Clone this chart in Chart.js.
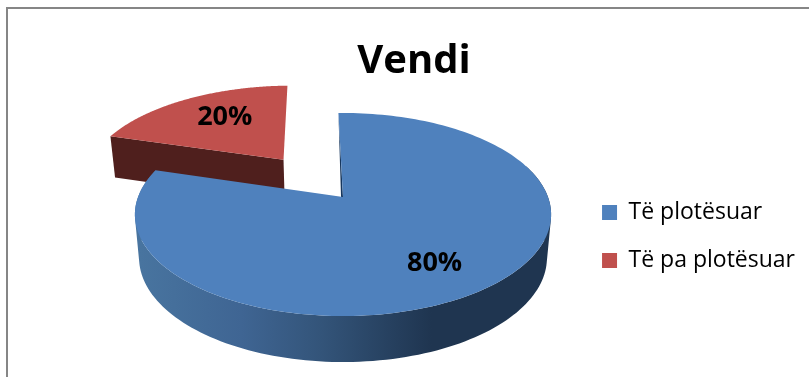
<!DOCTYPE html>
<html><head><meta charset="utf-8">
<style>html,body{margin:0;padding:0;background:#fff}#w{width:809px;height:377px;position:relative}</style>
<script src="https://cdn.jsdelivr.net/npm/chart.js@4"></script>
</head><body><div id="w"><canvas id="c" width="809" height="377"></canvas></div>
<script>
const categories = ["Të plotësuar", "Të pa plotësuar"];
const values = [80, 20];
const labels = ["80%", "20%"];
const explode = [0, 0.51];
const faceColors = ["#4f81bd", "#c0504d"];
const FONT = "'Open Sans', sans-serif";

// Perspective of the 3-D pie: maps a unit disc onto the page
const P = {xc:343, yc:197, B:205, A:98.5, k:0.1725};
function proj(u, v){ const w = 1 - P.k*v; return [P.xc + P.B*u/w, P.yc + P.A*v/w]; }
function low(p){ return [P.xc + (p[0]-P.xc)*0.98, p[1] + 41 + (p[1]-134)*0.0275]; }
function pathOf(ctx, pts){ ctx.beginPath(); pts.forEach((p,i)=> i?ctx.lineTo(p[0],p[1]):ctx.moveTo(p[0],p[1])); ctx.closePath(); }

function geom(arc){
  const {startAngle:s, endAngle:e} = arc;
  const mid = (s+e)/2, ex = arc.options.offset/100;
  const du = Math.cos(mid)*ex, dv = Math.sin(mid)*ex;
  const rim = [], front = [];
  const n = 180;
  for(let i=0;i<=n;i++){
    const a = s+(e-s)*i/n, p = proj(Math.cos(a)+du, Math.sin(a)+dv);
    rim.push(p);
    if(Math.sin(a) > -0.35) front.push(p);
  }
  return {rim, front, apex:proj(du,dv), du, dv, mid};
}
function area(q){ let s=0; q.forEach((p,i)=>{const n=q[(i+1)%q.length]; s+=p[0]*n[1]-n[0]*p[1];}); return s; }
const pie3d = {
  id:'pie3d',
  beforeDraw(chart){
    const c = chart.ctx; c.save(); c.strokeStyle='#868686'; c.lineWidth=2;
    c.beginPath(); c.moveTo(7,377); c.lineTo(7,8); c.lineTo(809,8); c.stroke(); c.restore();
  },
  beforeDatasetDraw(chart){
    const c = chart.ctx, arcs = chart.getDatasetMeta(0).data;
    const g = arcs.map(geom);
    c.save();
    // red slice (behind)
    const r = g[1], rLast = r.rim[0];
    pathOf(c,[r.apex, rLast, low(rLast), low(r.apex)]); c.fillStyle='#4f1f1d'; c.fill();
    pathOf(c,[r.apex, ...r.rim]); c.fillStyle=faceColors[1]; c.fill();
    // blue slice: outer wall, then inner sliver, then the top face
    const b = g[0];
    const grad = c.createLinearGradient(140,0,545,0);
    grad.addColorStop(0,'#48749f'); grad.addColorStop(.25,'#3f6593'); grad.addColorStop(.45,'#335479');
    grad.addColorStop(.72,'#1f3550'); grad.addColorStop(1,'#1f3550');
    c.fillStyle=grad;
    c.beginPath();
    for(let i=1;i<b.front.length;i++){
      let q=[b.front[i-1],b.front[i],low(b.front[i]),low(b.front[i-1])];
      if(area(q)<0) q=q.reverse();
      q.forEach((p,j)=> j?c.lineTo(p[0],p[1]):c.moveTo(p[0],p[1]));
      c.closePath();
    }
    c.fill('nonzero');
    const s0 = b.rim[0];
    pathOf(c,[s0,b.apex,[b.apex[0]-2,b.apex[1]]]); c.fillStyle='#17375e'; c.fill();
    pathOf(c,[b.apex, ...b.rim]); c.fillStyle=faceColors[0]; c.fill();
    // value labels
    c.fillStyle='#000'; c.font='bold 27px '+FONT; c.textAlign='center'; c.textBaseline='middle';
    const rho=[.6,.6], tw=[[10,15],[2,-4]];
    g.forEach((q,i)=>{ const u=Math.cos(q.mid)*rho[i]+q.du, v=Math.sin(q.mid)*rho[i]+q.dv; const p=proj(u,v);
      c.fillText(labels[i],p[0]+tw[i][0],p[1]+tw[i][1]); });
    c.restore();
    return false;
  }
};
new Chart(document.getElementById('c'),{
  type:'pie',
  data:{labels:categories,datasets:[{data:values,backgroundColor:faceColors,borderWidth:0,offset:(ctx)=>explode[ctx.dataIndex]*100}]},
  options:{
    responsive:false,animation:false,rotation:-1.5,
    layout:{padding:{left:23,right:4,top:0,bottom:0}},
    plugins:{
      tooltip:{enabled:false},
      title:{display:true,text:'Vendi',color:'#000',font:{family:FONT,size:40,weight:'bold'},padding:{top:38,bottom:10}},
      legend:{position:'right',fullSize:false,labels:{boxWidth:15,boxHeight:15,padding:25,color:'#000',font:{family:FONT,size:23}}}
    }
  },
  plugins:[pie3d]
});
</script></body></html>
